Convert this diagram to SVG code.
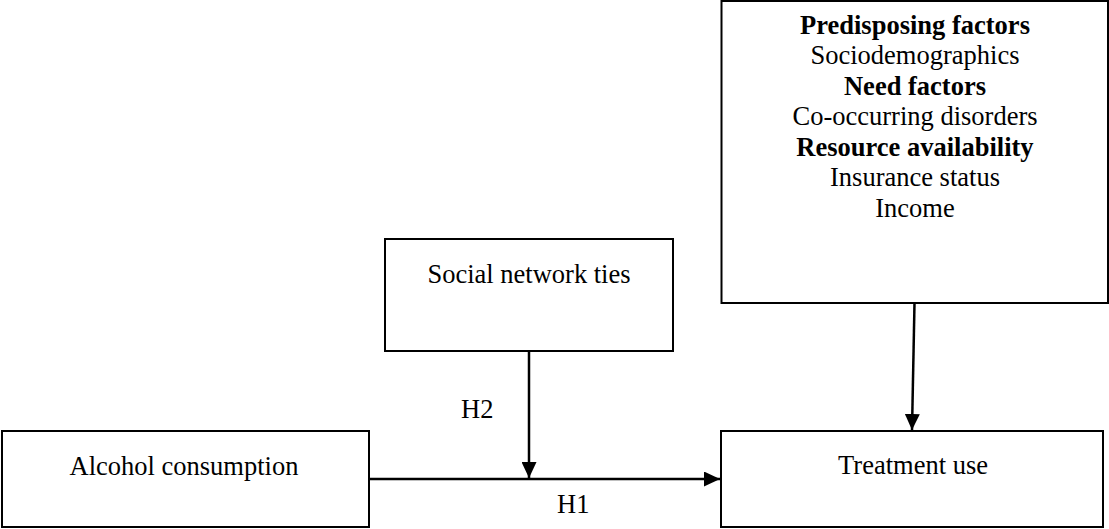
<svg xmlns="http://www.w3.org/2000/svg" width="1109" height="529" viewBox="0 0 1109 529">
  <style>
    .box { fill: #ffffff; stroke: #000000; stroke-width: 2; }
    .t { font-family: "Liberation Serif", "Times New Roman", serif; font-size: 26.5px; fill: #000000; text-anchor: middle; }
    .b { font-weight: bold; }
    .lbl { font-family: "Liberation Serif", "Times New Roman", serif; font-size: 26.5px; fill: #000000; }
    .conn { stroke: #000000; stroke-width: 2.5; fill: none; }
  </style>
  <defs>
    <marker id="arrow" markerUnits="userSpaceOnUse" viewBox="0 0 16 15" markerWidth="16" markerHeight="15" refX="16" refY="7.5" orient="auto">
      <path d="M0,0 L16,7.5 L0,15 z" fill="#000000"/>
    </marker>
  </defs>
  <rect width="1109" height="529" fill="#ffffff"/>

  <g id="factors">
    <rect class="box" x="721.5" y="1" width="386.5" height="302"/>
    <text class="t b" x="915" y="33.5">Predisposing factors</text>
    <text class="t" x="915" y="64">Sociodemographics</text>
    <text class="t b" x="915" y="94.5">Need factors</text>
    <text class="t" x="915" y="125">Co-occurring disorders</text>
    <text class="t b" x="915" y="155.5">Resource availability</text>
    <text class="t" x="915" y="186">Insurance status</text>
    <text class="t" x="915" y="216.5">Income</text>
  </g>

  <g id="social">
    <rect class="box" x="385" y="239" width="288" height="112"/>
    <text class="t" x="529" y="283">Social network ties</text>
  </g>

  <g id="alcohol">
    <rect class="box" x="2" y="431" width="367" height="96"/>
    <text class="t" x="184" y="475">Alcohol consumption</text>
  </g>

  <g id="treatment">
    <rect class="box" x="721" y="431" width="382" height="96"/>
    <text class="t" x="913" y="474">Treatment use</text>
  </g>

  <g id="connectors">
    <line class="conn" x1="369" y1="479" x2="720" y2="479" marker-end="url(#arrow)"/>
    <line class="conn" x1="529" y1="351" x2="529" y2="478" marker-end="url(#arrow)"/>
    <line class="conn" x1="914.5" y1="303" x2="912" y2="430" marker-end="url(#arrow)"/>
    <text class="lbl" x="461" y="418">H2</text>
    <text class="lbl" x="557" y="513">H1</text>
  </g>
</svg>
